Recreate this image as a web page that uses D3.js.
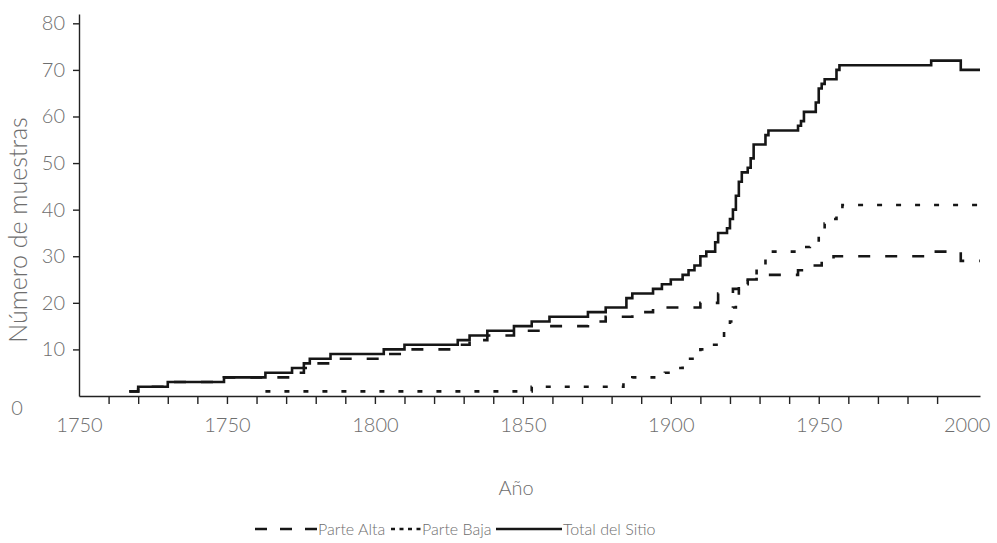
<!DOCTYPE html>
<html>
<head>
<meta charset="utf-8">
<script src="https://cdn.jsdelivr.net/npm/d3@7"></script>
<style>
  body { margin: 0; background: #fff; }
  text { font-family: Lato, "Open Sans", sans-serif; font-weight: 300; fill: #6e6e6e; }
</style>
</head>
<body>
<div id="chart"></div>
<script>
// Cumulative sample counts: year where each step starts, and the count from then on
const altaYears  = [1717,1720,1730,1749,1772,1776,1778,1785,1803,1810,1828,1832,1838,1847,1859,1872,1878,1887,1894,1910,1916,1921,1923,1926,1929,1943,1945,1951,1955,1988,1998];
const altaValues = [1,2,3,4,5,6,7,8,9,10,11,12,13,14,15,16,17,18,19,20,22,23,24,25,26,27,28,29,30,31,29];

const bajaYears  = [1763,1853,1884,1887,1898,1901,1904,1906,1908,1910,1913,1916,1918,1920,1921,1922,1923,1926,1929,1932,1934,1945,1947,1950,1952,1954,1956,1958];
const bajaValues = [1,2,3,4,5,6,7,8,9,10,11,12,14,16,19,22,24,26,28,30,31,32,33,35,37,38,40,41];

const totalYears  = [1717,1720,1730,1749,1763,1772,1776,1778,1785,1803,1810,1828,1832,1838,1847,1853,1859,1872,1878,1885,1887,1894,1897,1900,1904,1906,1908,1910,1912,1915,1916,1919,1920,1921,1922,1923,1924,1926,1927,1928,1932,1933,1943,1944,1945,1949,1950,1951,1952,1956,1957,1988,1998];
const totalValues = [1,2,3,4,5,6,7,8,9,10,11,12,13,14,15,16,17,18,19,21,22,23,24,25,26,27,28,30,31,33,35,36,38,40,43,46,48,49,51,54,56,57,58,59,61,63,66,67,68,70,71,72,70];

const lastYear = 2004.5;

// Axis ticks and labels
const yTicks = [0,10,20,30,40,50,60,70,80];
const xMinorTicks = [1710,1720,1730,1740,1750,1760,1770,1780,1790,1800,1810,1820,1830,1840,1850,1860,1870,1880,1890,1900,1910,1920,1930,1940,1950,1960,1970,1980,1990];
const xLabelYears = [1700,1750,1800,1850,1900,1950,2000];
const xLabels = ["1750","1750","1800","1850","1900","1950","2000"];

const series = [
    { name: "Parte Alta", years: altaYears, values: altaValues, dash: "12,15", legendDash: "12,13", lx: [255, 317] },
    { name: "Parte Baja", years: bajaYears, values: bajaValues, dash: "5,14", legendDash: "4,4.5", lx: [391, 421] },
    { name: "Total del Sitio", years: totalYears, values: totalValues, dash: null, legendDash: null, lx: [496, 562] }
];

const width = 997, height = 543;

const svg = d3.select("#chart").append("svg")
    .attr("width", width)
    .attr("height", height);

const x = d3.scaleLinear().domain([1700, lastYear]).range([79, 980]);
const y = d3.scaleLinear().domain([0, 82]).range([396, 14]);

// Lines
const line = d3.line()
    .x(d => x(d[0]))
    .y(d => y(d[1]))
    .curve(d3.curveStepAfter);

series.forEach(s => {
    const pts = s.years.map((yr, i) => [yr, s.values[i]]);
    pts.push([lastYear, s.values[s.values.length - 1]]);
    svg.append("path")
        .datum(pts)
        .attr("fill", "none")
        .attr("stroke", "#161616")
        .attr("stroke-width", 2.6)
        .attr("stroke-dasharray", s.dash)
        .attr("d", line);
});

// Y axis
const yAxis = svg.append("g")
    .attr("transform", `translate(${x(1700)},0)`)
    .call(d3.axisLeft(y).tickValues(yTicks).tickSize(6).tickSizeOuter(0).tickPadding(8));
yAxis.selectAll("text").style("font-size", "20px");
// the zero label sits apart, below and to the left of the corner
yAxis.selectAll(".tick")
    .filter(d => d === 0)
    .select("text")
    .attr("x", -62)
    .attr("y", 12)
    .attr("text-anchor", "middle");
yAxis.selectAll(".tick").filter(d => d === 0).select("line").remove();

// X axis: minor ticks
svg.append("g")
    .attr("transform", `translate(0,${y(0)})`)
    .call(d3.axisBottom(x).tickValues(xMinorTicks).tickSize(8).tickSizeOuter(0).tickFormat(""));

// X axis: labels
const xLab = svg.append("g")
    .attr("transform", `translate(0,${y(0)})`)
    .call(d3.axisBottom(x).tickValues(xLabelYears).tickSize(0).tickPadding(22)
        .tickFormat((d, i) => xLabels[i]));
xLab.select(".domain").remove();
xLab.selectAll("text").style("font-size", "20px");

svg.selectAll(".domain, .tick line")
    .attr("stroke", "#222")
    .attr("stroke-width", 1.4);

// Axis titles
svg.append("text")
    .attr("transform", `translate(27,230) rotate(-90)`)
    .attr("text-anchor", "middle")
    .style("font-size", "25px")
    .text("Número de muestras");

svg.append("text")
    .attr("x", 516)
    .attr("y", 495)
    .attr("text-anchor", "middle")
    .style("font-size", "20px")
    .text("Año");

// Legend
const legend = svg.append("g");
series.forEach(s => {
    legend.append("line")
        .attr("x1", s.lx[0]).attr("x2", s.lx[1])
        .attr("y1", 529).attr("y2", 529)
        .attr("stroke", "#161616")
        .attr("stroke-width", 2.6)
        .attr("stroke-dasharray", s.legendDash);
    legend.append("text")
        .attr("x", s.lx[1] + 1)
        .attr("y", 535)
        .style("font-size", "16px")
        .text(s.name);
});
</script>
</body>
</html>
